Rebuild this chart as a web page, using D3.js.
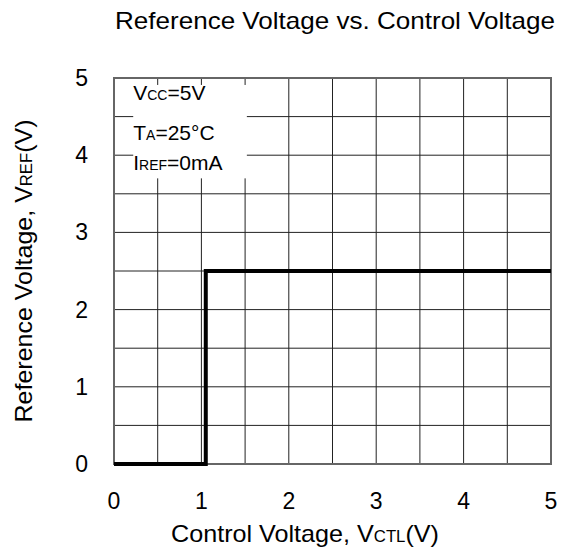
<!DOCTYPE html>
<html>
<head>
<meta charset="utf-8">
<script src="https://cdn.jsdelivr.net/npm/d3@7"></script>
<style>
  body { margin: 0; background: #fff; }
  text { font-family: "Liberation Sans", Arial, sans-serif; fill: #000; }
</style>
</head>
<body>
<svg id="chart" width="566" height="551"></svg>
<script>
// data
const vctl = [0, 1.05, 1.05, 5];
const vref = [0, 0, 2.5, 2.5];
const xTicks = [0, 1, 2, 3, 4, 5];
const yTicks = [0, 1, 2, 3, 4, 5];
const gridSteps = [0.5, 1, 1.5, 2, 2.5, 3, 3.5, 4, 4.5];

const svg = d3.select("#chart");
const margin = {top: 78, right: 15, bottom: 87, left: 114};
const width = 566 - margin.left - margin.right,
      height = 551 - margin.top - margin.bottom;

const x = d3.scaleLinear().domain([0, 5]).range([0, width]);
const y = d3.scaleLinear().domain([0, 5]).range([height, 0]);

const g = svg.append("g")
    .attr("transform", "translate(" + margin.left + "," + margin.top + ")");

// grid
g.append("g")
  .selectAll("line.v").data(gridSteps).enter().append("line")
    .attr("x1", d => x(d)).attr("x2", d => x(d))
    .attr("y1", 0).attr("y2", height)
    .attr("stroke", "#222").attr("stroke-width", 1);
g.append("g")
  .selectAll("line.h").data(gridSteps).enter().append("line")
    .attr("y1", d => y(d)).attr("y2", d => y(d))
    .attr("x1", 0).attr("x2", width)
    .attr("stroke", "#222").attr("stroke-width", 1);

// legend box (white, hides grid)
const lg = g.append("g").attr("transform", "translate(" + x(0.22) + "," + y(4.91) + ")");
lg.append("rect").attr("width", x(1.52) - x(0.22)).attr("height", y(3.7) - y(4.91))
  .attr("fill", "#fff");

function subText(parent, yy, parts) {
  const t = parent.append("text").attr("x", 0).attr("y", yy).style("font-size", "20px");
  parts.forEach(p => {
    t.append("tspan").text(p[0]).style("font-size", p[1] + "px");
  });
  return t;
}
subText(lg, 15, [["V", 21], ["CC", 14], ["=5V", 21]]);
subText(lg, 55, [["T", 21], ["A", 14], ["=25\u00B0C", 21]]);
subText(lg, 85, [["I", 21], ["REF", 14], ["=0mA", 21]]);

// frame
g.append("rect").attr("width", width).attr("height", height)
  .attr("fill", "none").attr("stroke", "#666").attr("stroke-width", 2);

// data line
const line = d3.line().x(d => x(d[0])).y(d => y(d[1]));
g.append("path")
  .datum(vctl.map((v, i) => [v, vref[i]]))
  .attr("d", line)
  .attr("fill", "none").attr("stroke", "#000").attr("stroke-width", 4)
  .attr("stroke-linejoin", "miter");

// tick labels
g.append("g").selectAll("text").data(xTicks).enter().append("text")
  .attr("x", d => x(d)).attr("y", height + 45)
  .attr("text-anchor", "middle").style("font-size", "23px")
  .text(d => d);
g.append("g").selectAll("text").data(yTicks).enter().append("text")
  .attr("x", -26).attr("y", d => y(d) + 8)
  .attr("text-anchor", "end").style("font-size", "23px")
  .text(d => d);

// title
svg.append("text").attr("x", 335).attr("y", 29)
  .attr("text-anchor", "middle").style("font-size", "24px")
  .attr("textLength", 440).attr("lengthAdjust", "spacingAndGlyphs")
  .text("Reference  Voltage vs. Control Voltage");

// x axis label
const xl = svg.append("text").attr("x", 305).attr("y", 542)
  .attr("text-anchor", "middle").style("font-size", "24px")
  .attr("textLength", 268).attr("lengthAdjust", "spacingAndGlyphs");
xl.append("tspan").text("Control Voltage, V");
xl.append("tspan").text("CTL").style("font-size", "16px");
xl.append("tspan").text("(V)");

// y axis label
const yl = svg.append("text")
  .attr("transform", "translate(32,271) rotate(-90)")
  .attr("text-anchor", "middle").style("font-size", "24px")
  .attr("textLength", 303).attr("lengthAdjust", "spacingAndGlyphs");
yl.append("tspan").text("Reference Voltage, V");
yl.append("tspan").text("REF").style("font-size", "16px");
yl.append("tspan").text("(V)");
</script>
</body>
</html>
